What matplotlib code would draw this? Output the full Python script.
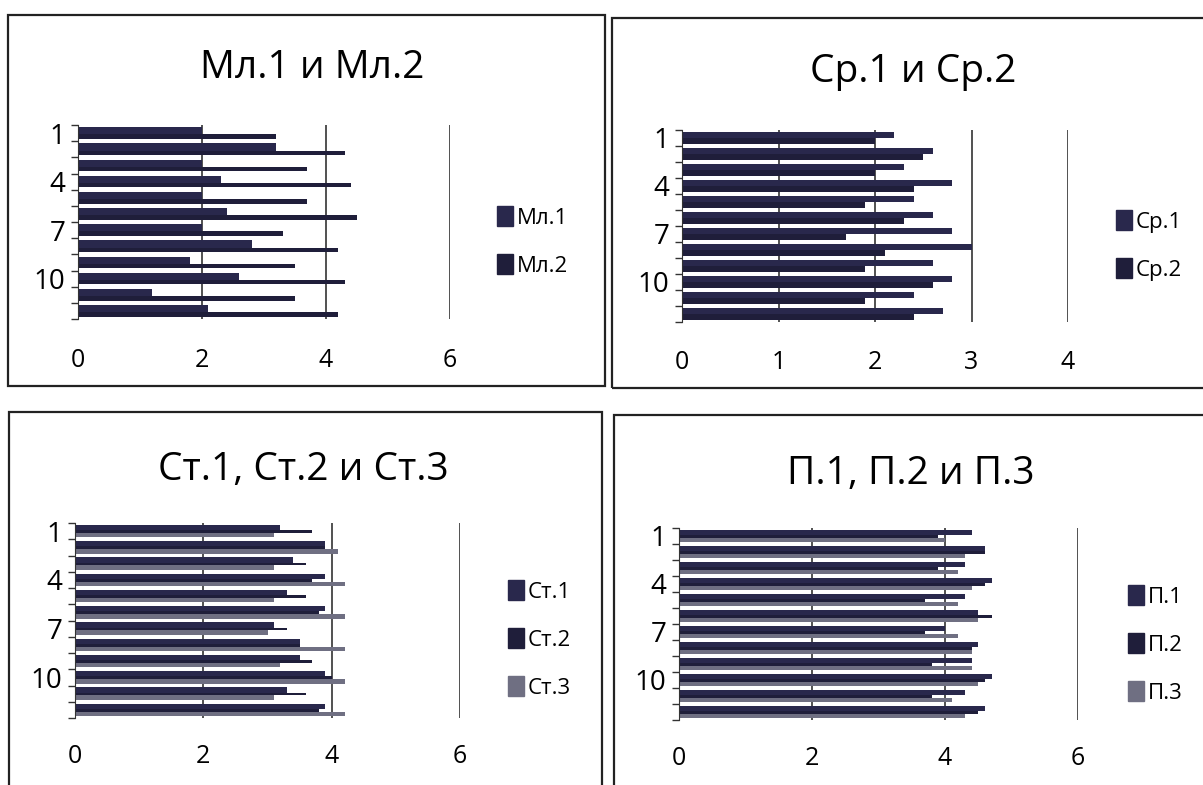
import matplotlib.pyplot as plt
import numpy as np
from matplotlib.patches import Rectangle

plt.rcParams['font.family'] = ['Open Sans', 'DejaVu Sans']

cats = list(range(1, 13))
ylabels = ['1', '4', '7', '10']

# Мл.1 и Мл.2
ml1 = [2.0, 3.2, 2.0, 2.3, 2.0, 2.4, 2.0, 2.8, 1.8, 2.6, 1.2, 2.1]
ml2 = [3.2, 4.3, 3.7, 4.4, 3.7, 4.5, 3.3, 4.2, 3.5, 4.3, 3.5, 4.2]

# Ср.1 и Ср.2
sr1 = [2.2, 2.6, 2.3, 2.8, 2.4, 2.6, 2.8, 3.0, 2.6, 2.8, 2.4, 2.7]
sr2 = [2.0, 2.5, 2.0, 2.4, 1.9, 2.3, 1.7, 2.1, 1.9, 2.6, 1.9, 2.4]

# Ст.1, Ст.2 и Ст.3
st1 = [3.2, 3.9, 3.4, 3.9, 3.3, 3.9, 3.1, 3.5, 3.5, 3.9, 3.3, 3.9]
st2 = [3.7, 3.9, 3.6, 3.7, 3.6, 3.8, 3.3, 3.5, 3.7, 4.0, 3.6, 3.8]
st3 = [3.1, 4.1, 3.1, 4.2, 3.1, 4.2, 3.0, 4.2, 3.2, 4.2, 3.1, 4.2]

# П.1, П.2 и П.3
p1 = [4.4, 4.6, 4.3, 4.7, 4.3, 4.5, 4.0, 4.5, 4.4, 4.7, 4.3, 4.6]
p2 = [3.9, 4.6, 3.9, 4.6, 3.7, 4.7, 3.7, 4.4, 3.8, 4.6, 3.8, 4.5]
p3 = [4.0, 4.3, 4.2, 4.4, 4.2, 4.5, 4.2, 4.4, 4.4, 4.5, 4.1, 4.3]

c1 = '#29284c'
c2 = '#1f1e3a'
c3 = '#6f6f82'

W, H = 1203, 785
fig = plt.figure(figsize=(W / 100, H / 100), dpi=100)


def fx(px):
    return px / W


def fy(py):
    return 1 - py / H


def panel(rect, title, title_xy, series, names, colors, heights, xmax, xstep,
          leg_xy, leg_space, pad_x):
    ax = fig.add_axes(rect)
    y = np.arange(len(cats))
    start = 0.5 - sum(heights) / 2
    for vals, col, h in zip(series, colors, heights):
        ax.barh(y - 0.5 + start + h / 2, vals, height=h, color=col)
        start += h
    ax.set_ylim(len(cats) - 0.5, -0.5)
    ax.set_xlim(0, xmax)
    ticks = np.arange(0, xmax + 0.01, xstep)
    ax.set_xticks(ticks)
    ax.set_xticklabels([f'{t:g}' for t in ticks])
    for t in ticks[1:]:
        ax.axvline(t, color='#333333', lw=1.2, zorder=0)
    ax.set_yticks([cats.index(int(s)) for s in ylabels])
    ax.set_yticklabels(ylabels)
    ax.set_yticks(np.arange(-0.5, len(cats)), minor=True)
    ax.tick_params(axis='y', which='major', length=0, pad=9, labelsize=20)
    ax.tick_params(axis='y', which='minor', length=5, width=1, color='#333333')
    ax.tick_params(axis='x', length=0, pad=pad_x, labelsize=18)
    for s in ['top', 'right', 'bottom']:
        ax.spines[s].set_visible(False)
    ax.spines['left'].set_color('#333333')
    fig.text(fx(title_xy[0]), fy(title_xy[1]), title, ha='center', va='center',
             fontsize=28)
    handles = [Rectangle((0, 0), 1, 1, color=c) for c in colors]
    fig.legend(handles, names, loc='upper left', frameon=False,
               bbox_to_anchor=(fx(leg_xy[0]), fy(leg_xy[1])),
               bbox_transform=fig.transFigure, fontsize=16,
               handlelength=0.7, handleheight=1.0, handletextpad=0.2,
               labelspacing=leg_space, borderaxespad=0, borderpad=0)
    return ax


panel([fx(78), fy(319), fx(372), 194 / H], 'Мл.1 и Мл.2', (312, 68),
      [ml1, ml2], ['Мл.1', 'Мл.2'], [c1, c2], [0.44, 0.28], 6, 2,
      (497, 206), 1.15, 21)
panel([fx(682), fy(322), fx(386), 192 / H], 'Ср.1 и Ср.2', (913, 72),
      [sr1, sr2], ['Ср.1', 'Ср.2'], [c1, c2], [0.34, 0.36], 4, 1,
      (1116, 210), 1.15, 20)
panel([fx(75), fy(718), fx(385), 195 / H], 'Ст.1, Ст.2 и Ст.3', (303, 470),
      [st1, st2, st3], ['Ст.1', 'Ст.2', 'Ст.3'], [c1, c2, c3], [0.32, 0.16, 0.28],
      6, 2, (508, 580), 1.15, 19)
panel([fx(679), fy(720), fx(399), 192 / H], 'П.1, П.2 и П.3', (911, 474),
      [p1, p2, p3], ['П.1', 'П.2', 'П.3'], [c1, c2, c3], [0.32, 0.16, 0.28],
      6, 2, (1128, 585), 1.15, 19)

# scanned page frames around each chart
for x0, y0, x1, y1 in [(8, 15, 605, 386), (612, 18, 1210, 388),
                       (9, 412, 602, 790), (614, 415, 1210, 790)]:
    fig.add_artist(Rectangle((fx(x0), fy(y1)), fx(x1 - x0), (y1 - y0) / H,
                             transform=fig.transFigure, fill=False,
                             edgecolor='#222222', lw=1.6))

fig.savefig('out.png', dpi=100)
